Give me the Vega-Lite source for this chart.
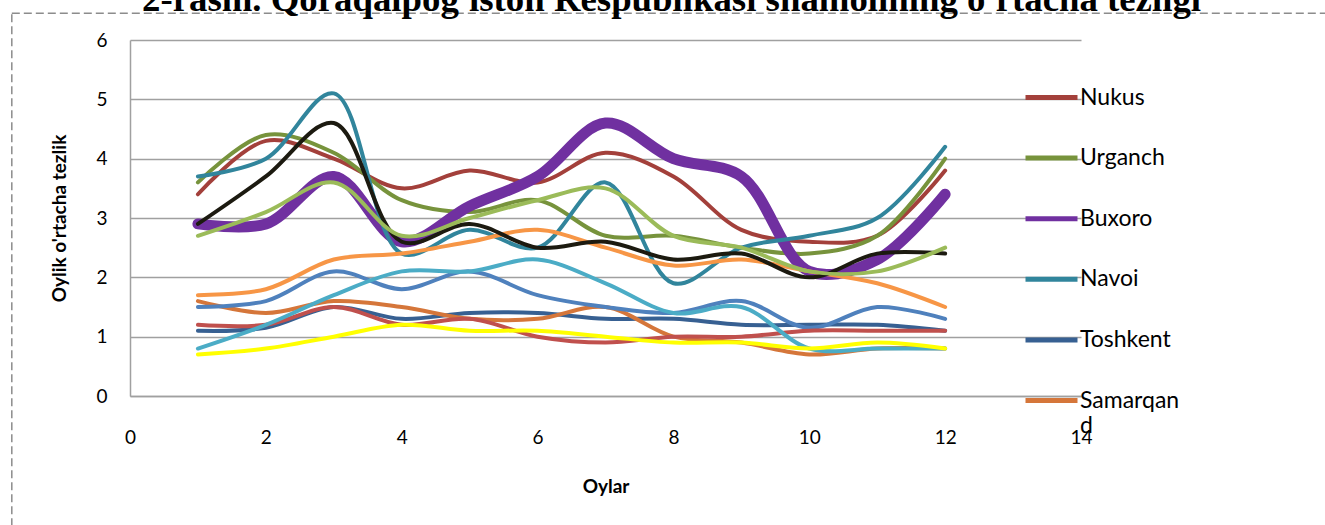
{
  "$schema": "https://vega.github.io/schema/vega-lite/v6.json",
  "width": 951,
  "height": 356,
  "autosize": "none",
  "padding": {"left": 130, "top": 40, "right": 244, "bottom": 129},
  "background": "#ffffff",
  "title": {
    "text": "2-rasm. Qoraqalpog'iston Respublikasi shamolining o'rtacha tezligi",
    "font": "Liberation Serif",
    "fontSize": 36.8,
    "fontWeight": "bold",
    "color": "#000000",
    "anchor": "start",
    "frame": "group",
    "baseline": "alphabetic",
    "offset": 0,
    "dx": 12,
    "dy": 35
  },
  "config": {
    "view": {"stroke": null},
    "font": "Lato"
  },
  "layer": [
    {
      "data": {"values": [{}]},
      "mark": {"type": "rect", "clip": false, "fill": null, "stroke": "#8c8c8c", "strokeWidth": 1.5, "strokeDash": [8, 4]},
      "encoding": {
        "x": {"datum": -1.74, "type": "quantitative", "scale": {"domain": [0, 14], "nice": false}},
        "x2": {"datum": 17.8},
        "y": {"datum": 6.45, "type": "quantitative", "scale": {"domain": [0, 6], "nice": false}},
        "y2": {"datum": -2.4}
      }
    },
    {
      "data": {
        "values": [
          {"city": "Nukus", "month": 1, "value": 3.4}, {"city": "Nukus", "month": 2, "value": 4.3}, {"city": "Nukus", "month": 3, "value": 4.0}, {"city": "Nukus", "month": 4, "value": 3.5}, {"city": "Nukus", "month": 5, "value": 3.8}, {"city": "Nukus", "month": 6, "value": 3.6}, {"city": "Nukus", "month": 7, "value": 4.1}, {"city": "Nukus", "month": 8, "value": 3.7}, {"city": "Nukus", "month": 9, "value": 2.8}, {"city": "Nukus", "month": 10, "value": 2.6}, {"city": "Nukus", "month": 11, "value": 2.7}, {"city": "Nukus", "month": 12, "value": 3.8},
          {"city": "Urganch", "month": 1, "value": 3.6}, {"city": "Urganch", "month": 2, "value": 4.4}, {"city": "Urganch", "month": 3, "value": 4.1}, {"city": "Urganch", "month": 4, "value": 3.3}, {"city": "Urganch", "month": 5, "value": 3.1}, {"city": "Urganch", "month": 6, "value": 3.3}, {"city": "Urganch", "month": 7, "value": 2.7}, {"city": "Urganch", "month": 8, "value": 2.7}, {"city": "Urganch", "month": 9, "value": 2.5}, {"city": "Urganch", "month": 10, "value": 2.4}, {"city": "Urganch", "month": 11, "value": 2.7}, {"city": "Urganch", "month": 12, "value": 4.0},
          {"city": "Buxoro", "month": 1, "value": 2.9}, {"city": "Buxoro", "month": 2, "value": 2.9}, {"city": "Buxoro", "month": 3, "value": 3.7}, {"city": "Buxoro", "month": 4, "value": 2.6}, {"city": "Buxoro", "month": 5, "value": 3.2}, {"city": "Buxoro", "month": 6, "value": 3.7}, {"city": "Buxoro", "month": 7, "value": 4.6}, {"city": "Buxoro", "month": 8, "value": 4.0}, {"city": "Buxoro", "month": 9, "value": 3.7}, {"city": "Buxoro", "month": 10, "value": 2.1}, {"city": "Buxoro", "month": 11, "value": 2.3}, {"city": "Buxoro", "month": 12, "value": 3.4},
          {"city": "Navoi", "month": 1, "value": 3.7}, {"city": "Navoi", "month": 2, "value": 4.0}, {"city": "Navoi", "month": 3, "value": 5.1}, {"city": "Navoi", "month": 4, "value": 2.4}, {"city": "Navoi", "month": 5, "value": 2.8}, {"city": "Navoi", "month": 6, "value": 2.5}, {"city": "Navoi", "month": 7, "value": 3.6}, {"city": "Navoi", "month": 8, "value": 1.9}, {"city": "Navoi", "month": 9, "value": 2.5}, {"city": "Navoi", "month": 10, "value": 2.7}, {"city": "Navoi", "month": 11, "value": 3.0}, {"city": "Navoi", "month": 12, "value": 4.2},
          {"city": "Toshkent", "month": 1, "value": 1.1}, {"city": "Toshkent", "month": 2, "value": 1.15}, {"city": "Toshkent", "month": 3, "value": 1.5}, {"city": "Toshkent", "month": 4, "value": 1.3}, {"city": "Toshkent", "month": 5, "value": 1.4}, {"city": "Toshkent", "month": 6, "value": 1.4}, {"city": "Toshkent", "month": 7, "value": 1.3}, {"city": "Toshkent", "month": 8, "value": 1.3}, {"city": "Toshkent", "month": 9, "value": 1.2}, {"city": "Toshkent", "month": 10, "value": 1.2}, {"city": "Toshkent", "month": 11, "value": 1.2}, {"city": "Toshkent", "month": 12, "value": 1.1},
          {"city": "Samarqand", "month": 1, "value": 1.6}, {"city": "Samarqand", "month": 2, "value": 1.4}, {"city": "Samarqand", "month": 3, "value": 1.6}, {"city": "Samarqand", "month": 4, "value": 1.5}, {"city": "Samarqand", "month": 5, "value": 1.3}, {"city": "Samarqand", "month": 6, "value": 1.3}, {"city": "Samarqand", "month": 7, "value": 1.5}, {"city": "Samarqand", "month": 8, "value": 1.0}, {"city": "Samarqand", "month": 9, "value": 0.9}, {"city": "Samarqand", "month": 10, "value": 0.7}, {"city": "Samarqand", "month": 11, "value": 0.8}, {"city": "Samarqand", "month": 12, "value": 0.8},
          {"city": "Jizzax", "month": 1, "value": 1.5}, {"city": "Jizzax", "month": 2, "value": 1.6}, {"city": "Jizzax", "month": 3, "value": 2.1}, {"city": "Jizzax", "month": 4, "value": 1.8}, {"city": "Jizzax", "month": 5, "value": 2.1}, {"city": "Jizzax", "month": 6, "value": 1.7}, {"city": "Jizzax", "month": 7, "value": 1.5}, {"city": "Jizzax", "month": 8, "value": 1.4}, {"city": "Jizzax", "month": 9, "value": 1.6}, {"city": "Jizzax", "month": 10, "value": 1.15}, {"city": "Jizzax", "month": 11, "value": 1.5}, {"city": "Jizzax", "month": 12, "value": 1.3},
          {"city": "Termiz", "month": 1, "value": 1.2}, {"city": "Termiz", "month": 2, "value": 1.2}, {"city": "Termiz", "month": 3, "value": 1.5}, {"city": "Termiz", "month": 4, "value": 1.2}, {"city": "Termiz", "month": 5, "value": 1.3}, {"city": "Termiz", "month": 6, "value": 1.0}, {"city": "Termiz", "month": 7, "value": 0.9}, {"city": "Termiz", "month": 8, "value": 1.0}, {"city": "Termiz", "month": 9, "value": 1.0}, {"city": "Termiz", "month": 10, "value": 1.1}, {"city": "Termiz", "month": 11, "value": 1.1}, {"city": "Termiz", "month": 12, "value": 1.1},
          {"city": "Qarshi", "month": 1, "value": 1.7}, {"city": "Qarshi", "month": 2, "value": 1.8}, {"city": "Qarshi", "month": 3, "value": 2.3}, {"city": "Qarshi", "month": 4, "value": 2.4}, {"city": "Qarshi", "month": 5, "value": 2.6}, {"city": "Qarshi", "month": 6, "value": 2.8}, {"city": "Qarshi", "month": 7, "value": 2.5}, {"city": "Qarshi", "month": 8, "value": 2.2}, {"city": "Qarshi", "month": 9, "value": 2.3}, {"city": "Qarshi", "month": 10, "value": 2.1}, {"city": "Qarshi", "month": 11, "value": 1.9}, {"city": "Qarshi", "month": 12, "value": 1.5},
          {"city": "Guliston", "month": 1, "value": 0.8}, {"city": "Guliston", "month": 2, "value": 1.2}, {"city": "Guliston", "month": 3, "value": 1.7}, {"city": "Guliston", "month": 4, "value": 2.1}, {"city": "Guliston", "month": 5, "value": 2.1}, {"city": "Guliston", "month": 6, "value": 2.3}, {"city": "Guliston", "month": 7, "value": 1.9}, {"city": "Guliston", "month": 8, "value": 1.4}, {"city": "Guliston", "month": 9, "value": 1.5}, {"city": "Guliston", "month": 10, "value": 0.8}, {"city": "Guliston", "month": 11, "value": 0.8}, {"city": "Guliston", "month": 12, "value": 0.8},
          {"city": "Namangan", "month": 1, "value": 0.7}, {"city": "Namangan", "month": 2, "value": 0.8}, {"city": "Namangan", "month": 3, "value": 1.0}, {"city": "Namangan", "month": 4, "value": 1.2}, {"city": "Namangan", "month": 5, "value": 1.1}, {"city": "Namangan", "month": 6, "value": 1.1}, {"city": "Namangan", "month": 7, "value": 1.0}, {"city": "Namangan", "month": 8, "value": 0.9}, {"city": "Namangan", "month": 9, "value": 0.9}, {"city": "Namangan", "month": 10, "value": 0.8}, {"city": "Namangan", "month": 11, "value": 0.9}, {"city": "Namangan", "month": 12, "value": 0.8},
          {"city": "Andijon", "month": 1, "value": 2.9}, {"city": "Andijon", "month": 2, "value": 3.7}, {"city": "Andijon", "month": 3, "value": 4.6}, {"city": "Andijon", "month": 4, "value": 2.6}, {"city": "Andijon", "month": 5, "value": 2.9}, {"city": "Andijon", "month": 6, "value": 2.5}, {"city": "Andijon", "month": 7, "value": 2.6}, {"city": "Andijon", "month": 8, "value": 2.3}, {"city": "Andijon", "month": 9, "value": 2.4}, {"city": "Andijon", "month": 10, "value": 2.0}, {"city": "Andijon", "month": 11, "value": 2.4}, {"city": "Andijon", "month": 12, "value": 2.4},
          {"city": "Farg'ona", "month": 1, "value": 2.7}, {"city": "Farg'ona", "month": 2, "value": 3.1}, {"city": "Farg'ona", "month": 3, "value": 3.6}, {"city": "Farg'ona", "month": 4, "value": 2.7}, {"city": "Farg'ona", "month": 5, "value": 3.0}, {"city": "Farg'ona", "month": 6, "value": 3.3}, {"city": "Farg'ona", "month": 7, "value": 3.5}, {"city": "Farg'ona", "month": 8, "value": 2.7}, {"city": "Farg'ona", "month": 9, "value": 2.5}, {"city": "Farg'ona", "month": 10, "value": 2.1}, {"city": "Farg'ona", "month": 11, "value": 2.1}, {"city": "Farg'ona", "month": 12, "value": 2.5}
        ]
      },
      "mark": {"type": "line", "interpolate": "catmull-rom", "strokeCap": "round", "strokeJoin": "round"},
      "encoding": {
        "x": {
          "field": "month", "type": "quantitative",
          "scale": {"domain": [0, 14], "nice": false},
          "axis": {
            "values": [0, 2, 4, 6, 8, 10, 12, 14], "format": "d",
            "grid": false, "ticks": false, "tickSize": 0,
            "domainColor": "#a0a0a0", "domainWidth": 1.5,
            "labelFont": "Lato", "labelFontSize": 19, "labelColor": "#000000",
            "labelPadding": 32, "labelFlush": false,
            "title": "Oylar", "titleFont": "Lato", "titleFontSize": 19, "titleFontWeight": "bold", "titleColor": "#000000",
            "titlePadding": 30
          }
        },
        "y": {
          "field": "value", "type": "quantitative",
          "scale": {"domain": [0, 6], "nice": false},
          "axis": {
            "values": [0, 1, 2, 3, 4, 5, 6], "format": "d",
            "grid": true, "gridColor": "#a0a0a0", "gridWidth": 1.5,
            "ticks": false, "tickSize": 0,
            "domainColor": "#a0a0a0", "domainWidth": 1.5,
            "labelFont": "Lato", "labelFontSize": 19, "labelColor": "#000000",
            "labelPadding": 23,
            "title": "Oylik o'rtacha tezlik", "titleFont": "Lato", "titleFontSize": 19, "titleFontWeight": "bold", "titleColor": "#000000",
            "titlePadding": 26
          }
        },
        "color": {
          "field": "city", "type": "nominal",
          "scale": {
            "domain": ["Nukus", "Urganch", "Buxoro", "Navoi", "Toshkent", "Samarqand", "Jizzax", "Termiz", "Qarshi", "Guliston", "Namangan", "Andijon", "Farg'ona"],
            "range": ["#a3403b", "#77933c", "#7030a0", "#31859c", "#376092", "#d5763a", "#4f81bd", "#c0504d", "#f79646", "#4bacc6", "#ffff00", "#1c1a10", "#9bbb59"]
          },
          "legend": {
            "values": ["Nukus", "Urganch", "Buxoro", "Navoi", "Toshkent", "Samarqand"],
            "orient": "none", "legendX": 893, "legendY": 29,
            "title": null, "padding": 0,
            "symbolType": "stroke", "symbolSize": 2704, "symbolStrokeWidth": 5,
            "labelFont": "Lato", "labelFontSize": 23, "labelColor": "#000000", "labelOffset": 0,
            "labelExpr": "datum.label === 'Samarqand' ? ['Samarqan', 'd'] : datum.label",
            "rowPadding": 19.6
          }
        },
        "strokeWidth": {"condition": {"test": "datum.city === 'Buxoro'", "value": 11}, "value": 4}
      }
    }
  ]
}
